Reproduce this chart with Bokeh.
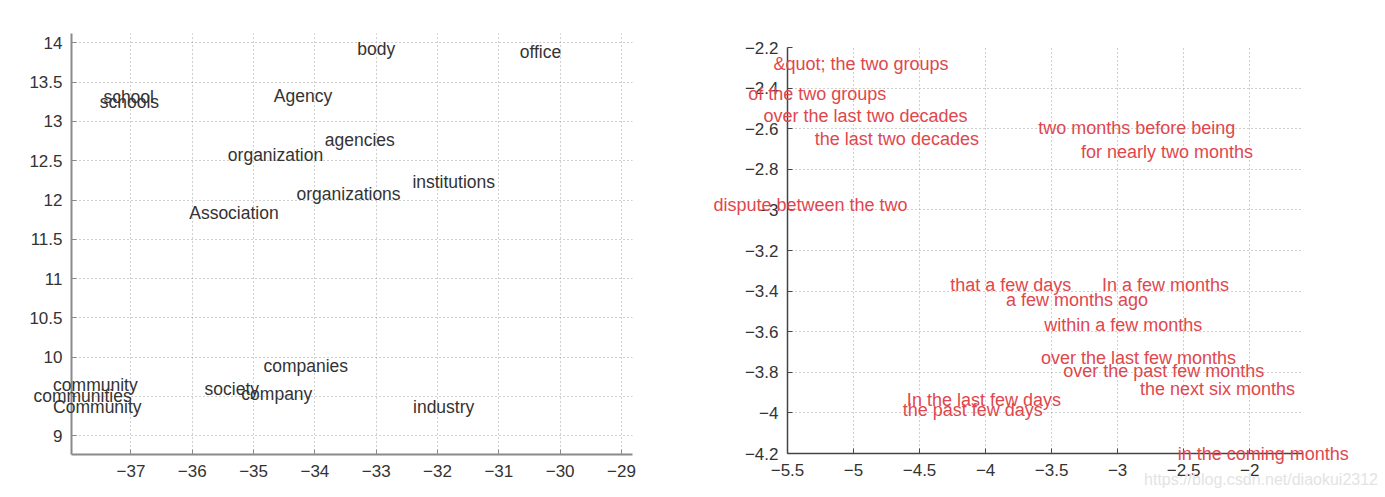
from bokeh.plotting import figure
from bokeh.layouts import row
from bokeh.models import ColumnDataSource, FixedTicker, Range1d
from bokeh.core.properties import value
from bokeh.embed import file_html
from bokeh.resources import INLINE

FONT = "Liberation Sans"

# ---- left panel data ----
words_left = ["school", "schools", "Agency", "organization", "agencies", "organizations",
              "Association", "body", "office", "institutions", "companies", "community",
              "communities", "Community", "society", "company", "industry"]
x_left = [-37.45, -37.51, -34.67, -35.42, -33.84, -34.30, -36.05, -33.31, -30.66, -32.41,
          -34.84, -38.27, -38.59, -38.27, -35.80, -35.20, -32.40]
y_left = [13.31, 13.25, 13.33, 12.57, 12.76, 12.08, 11.83, 13.92, 13.89, 12.23,
          9.89, 9.645, 9.505, 9.36, 9.59, 9.53, 9.37]
xticks_left = [-37, -36, -35, -34, -33, -32, -31, -30, -29]
xlabels_left = ["\u221237", "\u221236", "\u221235", "\u221234", "\u221233", "\u221232",
                "\u221231", "\u221230", "\u221229"]
yticks_left = [9, 9.5, 10, 10.5, 11, 11.5, 12, 12.5, 13, 13.5, 14]
ylabels_left = ["9", "", "10", "10.5", "11", "11.5", "12", "12.5", "13", "13.5", "14"]

# ---- right panel data ----
words_right = ["&quot; the two groups", "of the two groups", "over the last two decades",
               "the last two decades", "dispute between the two", "two months before being",
               "for nearly two months", "that a few days", "a few months ago",
               "In the last few days", "the past few days", "In a few months",
               "within a few months", "over the last few months", "over the past few months",
               "the next six months", "in the coming months"]
x_right = [-5.606, -5.798, -5.682, -5.293, -6.061, -3.602, -3.278, -4.268, -3.846,
           -4.596, -4.627, -3.119, -3.556, -3.581, -3.412, -2.831, -2.545]
y_right = [-2.279, -2.430, -2.537, -2.649, -2.977, -2.599, -2.715, -3.368, -3.442,
           -3.938, -3.988, -3.368, -3.569, -3.728, -3.795, -3.884, -4.201]
xticks_right = [-5.5, -5, -4.5, -4, -3.5, -3, -2.5, -2]
xlabels_right = ["\u22125.5", "\u22125", "\u22124.5", "\u22124", "\u22123.5", "\u22123",
                 "\u22122.5", "\u22122"]
yticks_right = [-4.2, -4, -3.8, -3.6, -3.4, -3.2, -3, -2.8, -2.6, -2.4, -2.2]
ylabels_right = ["\u22124.2", "\u22124", "\u22123.8", "\u22123.6", "\u22123.4", "\u22123.2",
                 "\u22123", "\u22122.8", "\u22122.6", "\u22122.4", "\u22122.2"]

# faint source watermark shown under the right panel
watermark = ["https://blog.csdn.net/diaokui2312"]
watermark_x = [-2.80]
watermark_y = [-4.33]


def style(p, xt, xl, yt, yl, axis_color, axis_width):
    p.xaxis.ticker = FixedTicker(ticks=xt)
    p.yaxis.ticker = FixedTicker(ticks=yt)
    p.xaxis.major_label_overrides = {t: l for t, l in zip(xt, xl)}
    p.yaxis.major_label_overrides = {t: l for t, l in zip(yt, yl)}
    for ax in (p.xaxis[0], p.yaxis[0]):
        ax.axis_line_color = axis_color
        ax.axis_line_width = axis_width
        ax.major_tick_line_color = axis_color
        ax.major_tick_in = 5
        ax.major_tick_out = 0
        ax.minor_tick_line_color = None
        ax.major_label_text_font = FONT
        ax.major_label_text_font_size = "17px"
        ax.major_label_text_color = "#333333"
        ax.major_label_standoff = 9
    p.xaxis.major_label_standoff = 10
    p.grid.grid_line_color = "#a0a0a0"
    p.grid.grid_line_dash = "1 3"
    p.grid.grid_line_width = 1
    p.outline_line_color = None
    p.background_fill_color = "white"
    p.border_fill_color = "white"
    p.frame_align = False


H = 490
p1 = figure(width=690, height=H, output_backend="svg", toolbar_location=None,
            x_range=Range1d(-37.97, -28.82), y_range=Range1d(8.76, 14.12),
            min_border_left=71, min_border_right=58, min_border_top=33, min_border_bottom=36)
style(p1, xticks_left, xlabels_left, yticks_left, ylabels_left, "#8a8a8a", 2)
src1 = ColumnDataSource(dict(x=x_left, y=y_left, w=words_left))
p1.text(x="x", y="y", text="w", source=src1, text_font=value(FONT), text_font_size="17.5px",
        text_color="#333333", text_align="left", text_baseline="middle", level="overlay")

p2 = figure(width=694, height=H, output_backend="svg", toolbar_location=None,
            x_range=Range1d(-5.5, -1.6), y_range=Range1d(-4.2, -2.2),
            min_border_left=97, min_border_right=82, min_border_top=47, min_border_bottom=37)
style(p2, xticks_right, xlabels_right, yticks_right, ylabels_right, "#444444", 1.5)
src2 = ColumnDataSource(dict(x=x_right, y=y_right, w=words_right))
p2.text(x="x", y="y", text="w", source=src2, text_font=value(FONT), text_font_size="18px",
        text_color="#e0474c", text_align="left", text_baseline="middle", level="overlay")
srcw = ColumnDataSource(dict(x=watermark_x, y=watermark_y, w=watermark))
p2.text(x="x", y="y", text="w", source=srcw, text_font=value(FONT), text_font_size="16px",
        text_color="#e3e3e3", text_align="left", text_baseline="middle", level="overlay")

layout = row(p1, p2)
open("out.html", "w").write(file_html(layout, INLINE))
